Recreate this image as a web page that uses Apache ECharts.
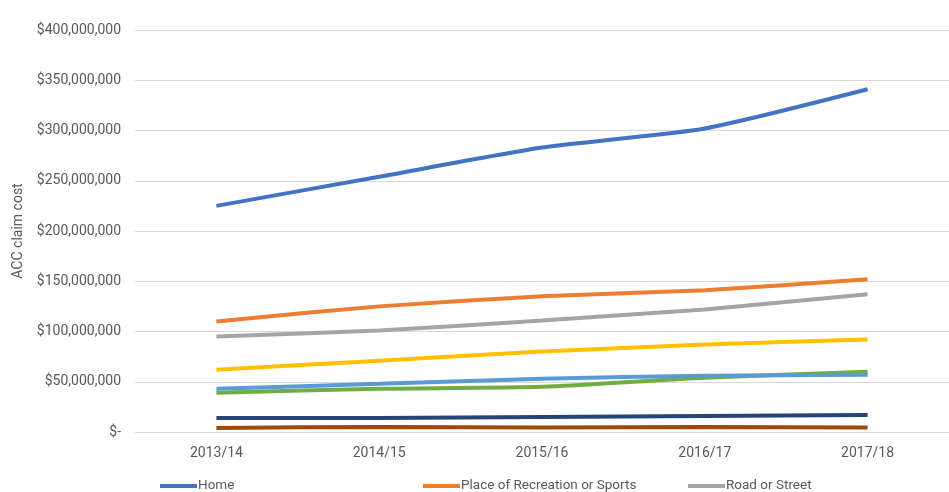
<!DOCTYPE html>
<html>
<head>
<meta charset="utf-8">
<script src="https://cdn.jsdelivr.net/npm/echarts@6/dist/echarts.min.js"></script>
<style>
html,body{margin:0;padding:0;background:#fff;}
#chart{width:949px;height:492px;}
</style>
</head>
<body>
<div id="chart"></div>
<script>
var categories = ['2013/14', '2014/15', '2015/16', '2016/17', '2017/18'];
var home = [225000000, 254000000, 283000000, 302000000, 341000000];
var recreation = [110000000, 125000000, 135000000, 141000000, 152000000];
var road = [95000000, 101000000, 111000000, 122000000, 137000000];
var commercial = [62000000, 71000000, 80000000, 87000000, 92000000];
var industrial = [43000000, 48000000, 53000000, 56000000, 57000000];
var other = [39000000, 43000000, 45000000, 54000000, 60000000];
var school = [14000000, 14000000, 15000000, 16000000, 17000000];
var farm = [4000000, 5000000, 4500000, 5000000, 4500000];
var yTicks = [0, 50000000, 100000000, 150000000, 200000000, 250000000, 300000000, 350000000, 400000000];

var seriesNames = ['Home', 'Place of Recreation or Sports', 'Road or Street',
  'Commercial or Service Location', 'Industrial Place', 'Other', 'School', 'Farm'];
var seriesData = [home, recreation, road, commercial, industrial, other, school, farm];
var colors = ['#4472C4', '#ED7D31', '#A5A5A5', '#FFC000', '#5B9BD5', '#70AD47', '#264478', '#9E480E'];

var FONT = 'Roboto';
var TXT = '#595959';

function fmt(v) {
  if (v === 0) return '$-';
  return '$' + String(v).replace(/\B(?=(\d{3})+(?!\d))/g, ',');
}

var series = seriesNames.map(function (n, i) {
  return {
    name: n,
    type: 'line',
    data: seriesData[i],
    smooth: 0.2,
    symbol: 'none',
    lineStyle: { width: 4, color: colors[i] },
    itemStyle: { color: colors[i] },
    z: 10 - i
  };
});

function legendFor(name, left) {
  return {
    data: [name],
    left: left,
    top: 479,
    icon: 'rect',
    itemWidth: 37,
    itemHeight: 4,
    itemGap: 0,
    textStyle: { fontFamily: FONT, fontSize: 13.5, color: TXT, padding: [0, 0, 0, -4] },
    padding: 0
  };
}

var chart = echarts.init(document.getElementById('chart'), null, { renderer: 'canvas' });
chart.setOption({
  animation: false,
  color: colors,
  grid: { left: 135, top: 30, width: 846, height: 402 },
  legend: [legendFor('Home', 160), legendFor('Place of Recreation or Sports', 423), legendFor('Road or Street', 688)],
  xAxis: {
    type: 'category',
    data: categories,
    boundaryGap: true,
    axisLine: { show: true, lineStyle: { color: '#D9D9D9', width: 1 } },
    axisTick: { show: false },
    axisLabel: { fontFamily: FONT, fontSize: 14, color: TXT, margin: 14 }
  },
  yAxis: {
    type: 'value',
    min: yTicks[0],
    max: yTicks[yTicks.length - 1],
    interval: yTicks[1] - yTicks[0],
    name: 'ACC claim cost',
    nameLocation: 'middle',
    nameRotate: 90,
    nameGap: 107,
    nameTextStyle: { fontFamily: FONT, fontSize: 14, color: TXT },
    axisLine: { show: false },
    axisTick: { show: false },
    axisLabel: { fontFamily: FONT, fontSize: 14, color: TXT, margin: 14, formatter: fmt },
    splitLine: { show: true, lineStyle: { color: '#D9D9D9', width: 1 } }
  },
  series: series
});
</script>
</body>
</html>
